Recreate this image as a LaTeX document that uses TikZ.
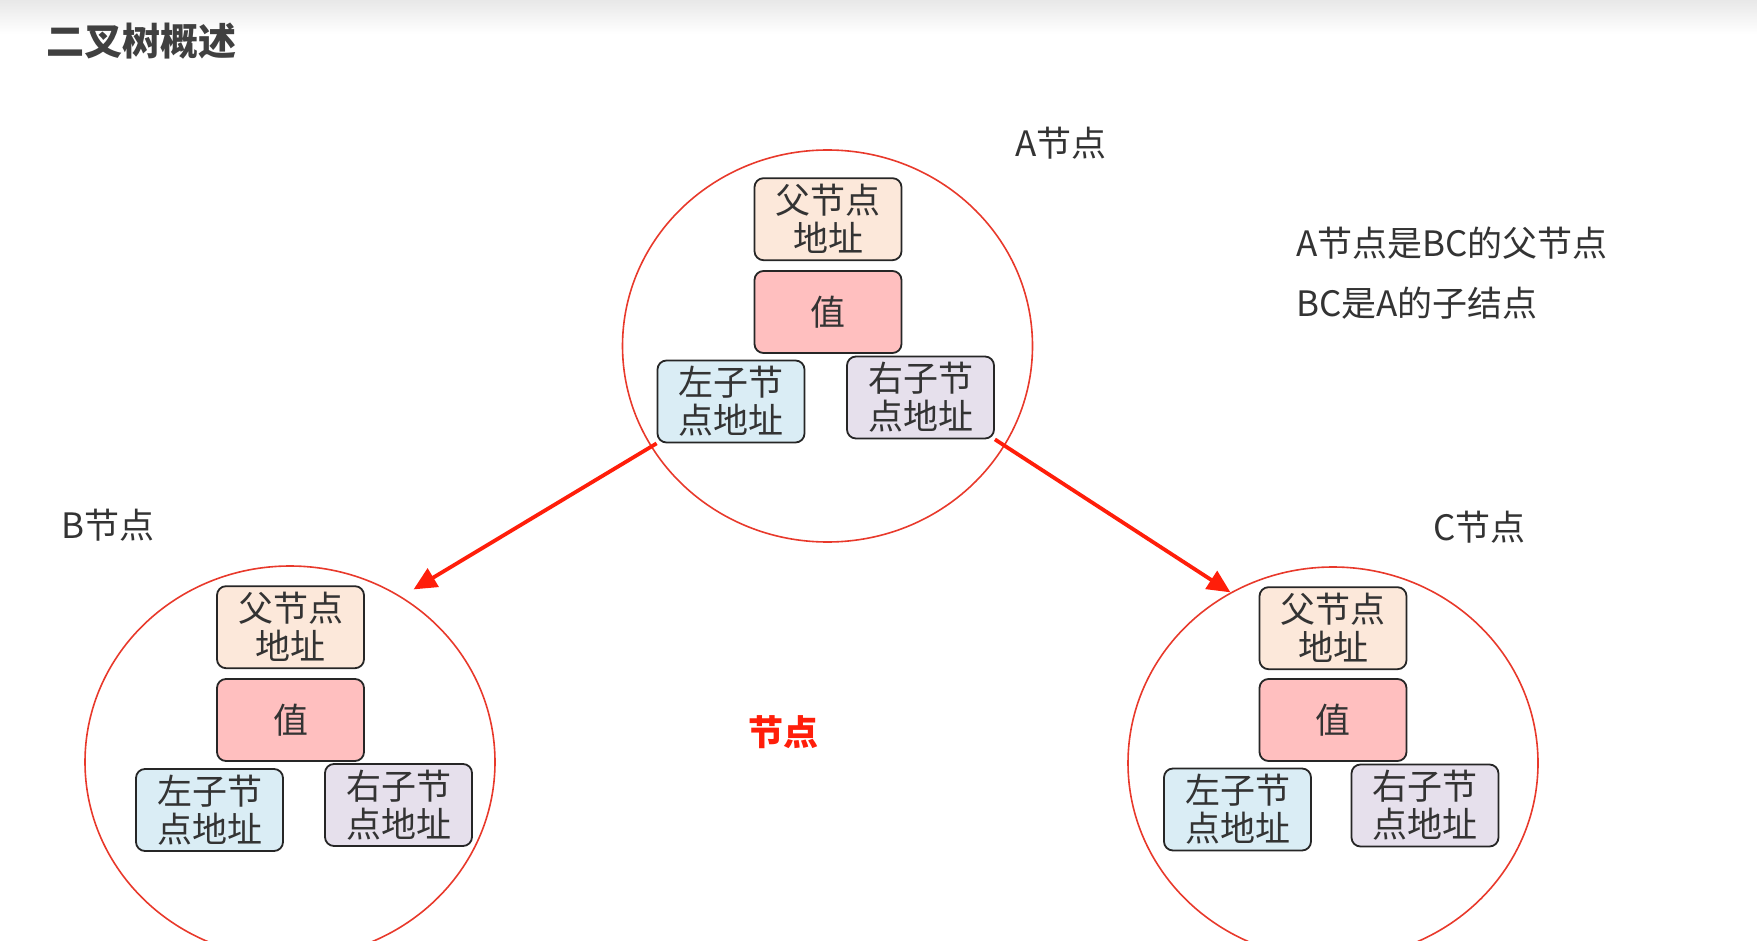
\documentclass[tikz,border=0pt]{standalone}
\usepackage{fontspec}
\setmainfont{Noto Sans CJK SC}
\usetikzlibrary{shapes.geometric, arrows.meta, positioning}

\definecolor{ringred}{HTML}{E8392B}
\definecolor{arrowred}{HTML}{FF1E0A}
\definecolor{parcol}{HTML}{FCE8DA}
\definecolor{valcol}{HTML}{FFBFBF}
\definecolor{lcol}{HTML}{DAEDF5}
\definecolor{rcol}{HTML}{E6E0EC}

\begin{document}
\begin{tikzpicture}[
    x=1pt, y=-1pt,
    every node/.style={text=black!80, font=\fontsize{35}{38}\selectfont},
    treenode/.style={ellipse, draw=ringred, line width=1.6pt, minimum width=410pt, minimum height=392pt, inner sep=0pt},
    box/.style={rectangle, draw=black!85, line width=1.8pt, rounded corners=9pt, minimum width=147pt, minimum height=82pt, inner sep=0pt, align=center},
    parbox/.style={box, fill=parcol},
    valbox/.style={box, fill=valcol},
    lbox/.style={box, fill=lcol},
    rbox/.style={box, fill=rcol},
    nodetext/.style={anchor=west, inner sep=0pt},
    line/.style={draw=arrowred, line width=3.8pt, -{Triangle[length=23pt,width=21pt]}}
]
    \useasboundingbox (0,0) rectangle (1757,941);
    \clip (0,0) rectangle (1757,941);
    \shade[top color=black!9, bottom color=white] (0,0) rectangle (1757,34);

    % Title and notes
    \node (title) [nodetext, font=\fontsize{38}{40}\selectfont\bfseries, text=black!75] at (46,41) {二叉树概述};
    \node (note1) [nodetext] at (1296,243) {A节点是BC的父节点};
    \node (note2) [nodetext] at (1296,303) {BC是A的子结点};
    \node (mid) [text=arrowred, font=\fontsize{35}{38}\selectfont\bfseries] at (783,732) {节点};

    % Tree nodes
    \node (ac) [treenode] at (827.5,346) {};
    \node (bc) [treenode] at (290,762) {};
    \node (cc) [treenode] at (1333,763) {};
    \node (aname) [nodetext] at (1015,143) {A节点};
    \node (bname) [nodetext] at (61,525) {B节点};
    \node (cname) [nodetext] at (1433,527) {C节点};

    % A
    \node (aval) [valbox] at (828,312) {值};
    \node (apar) [parbox, above=9pt of aval] {父节点\\地址};
    \node (alft) [lbox] at (731,401.5) {左子节\\点地址};
    \node (argt) [rbox] at (920.5,397.5) {右子节\\点地址};

    % B
    \node (bval) [valbox] at (290.5,720) {值};
    \node (bpar) [parbox, above=9pt of bval] {父节点\\地址};
    \node (blft) [lbox] at (209.5,810) {左子节\\点地址};
    \node (brgt) [rbox] at (398.5,805) {右子节\\点地址};

    % C
    \node (cval) [valbox] at (1333,720) {值};
    \node (cpar) [parbox, above=8pt of cval] {父节点\\地址};
    \node (clft) [lbox] at (1237.5,809.5) {左子节\\点地址};
    \node (crgt) [rbox] at (1425,805.5) {右子节\\点地址};

    % Connections
    \draw [line, shorten >=14pt] (alft.south west) -- (bc.56.5);
    \draw [line] (argt.south east) -- (cc.121);
\end{tikzpicture}
\end{document}
